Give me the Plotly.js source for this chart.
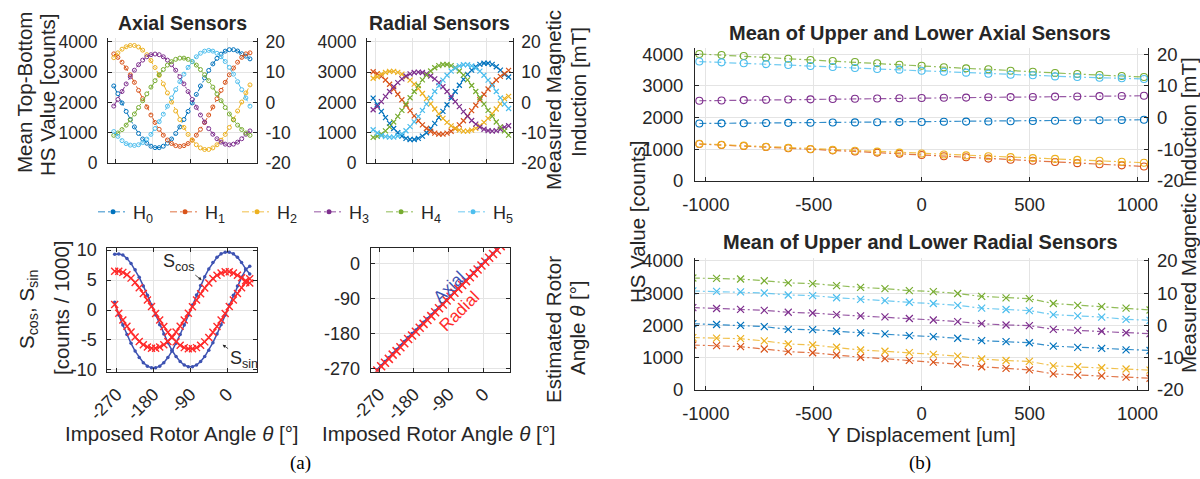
<!DOCTYPE html>
<html><head><meta charset="utf-8">
<script src="https://cdn.plot.ly/plotly-3.0.1.min.js"></script>
<style>html,body{margin:0;padding:0;background:#fff}#chart{width:1200px;height:479px}</style>
</head><body><div id="chart"></div>
<script>
// ---------- data ----------
const sensorNames = ['H<sub>0</sub>','H<sub>1</sub>','H<sub>2</sub>','H<sub>3</sub>','H<sub>4</sub>','H<sub>5</sub>'];
const theta = [-275,-265,-255,-245,-235,-225,-215,-205,-195,-185,-175,-165,-155,-145,-135,-125,-115,-105,-95,-85,-75,-65,-55,-45,-35,-25,-15,-5,5,15,25,35,45,55];

const axialH0 = [2546,2290,1984,1704,1438,1192,976,794,653,555,507,507,555,653,794,976,1192,1438,1704,1984,2266,2546,2812,3058,3274,3456,3597,3695,3744,3744,3700,3610,3530,3440];
const axialH1 = [3606,3489,3331,3138,2913,2664,2399,2125,1851,1586,1338,1112,919,761,644,574,550,574,644,761,919,1112,1338,1586,1851,2125,2399,2664,2913,3138,3331,3489,3606,3640];
const axialH2 = [3480,3640,3760,3840,3883,3883,3831,3728,3578,3385,3155,2895,2612,2315,2015,1718,1435,1175,945,752,602,499,447,447,499,602,752,945,1175,1435,1718,2015,2315,2580];
const axialH3 = [1880,2100,2361,2613,2850,3065,3249,3399,3510,3578,3600,3578,3510,3399,3249,3065,2850,2613,2361,2100,1839,1587,1350,1136,951,801,690,623,600,623,690,801,951,1060];
const axialH4 = [914,992,1105,1251,1424,1620,1833,2057,2283,2507,2720,2916,3089,3235,3348,3426,3465,3465,3426,3348,3235,3089,2916,2720,2507,2283,2057,1833,1620,1424,1251,1105,992,914];
const axialH5 = [1040,880,740,640,590,580,604,674,790,947,1140,1365,1613,1877,2150,2423,2687,2935,3160,3353,3510,3626,3696,3720,3696,3626,3510,3353,3160,2935,2687,2423,2150,1877];

const radialH0 = [2145,1925,1707,1500,1309,1141,999,889,813,775,775,813,889,999,1141,1309,1500,1707,1925,2145,2363,2570,2761,2929,3071,3181,3257,3295,3295,3257,3181,3071,2929,2840];
const radialH1 = [3014,2951,2860,2742,2603,2444,2272,2091,1909,1728,1556,1397,1258,1140,1049,986,954,954,986,1049,1140,1258,1397,1556,1728,1909,2091,2272,2444,2603,2742,2860,2951,3060];
const radialH2 = [2800,2851,2937,2996,3026,3026,2996,2937,2851,2740,2608,2459,2296,2126,1954,1784,1621,1472,1340,1229,1143,1084,1054,1054,1084,1143,1229,1340,1472,1621,1784,1954,2126,2200];
const radialH3 = [1760,1860,2030,2200,2363,2518,2657,2777,2874,2947,2990,3005,2990,2947,2874,2777,2657,2518,2363,2200,2030,1860,1697,1543,1403,1283,1186,1114,1070,1055,1070,1114,1186,1230];
const radialH4 = [845,881,954,1059,1195,1355,1538,1737,1945,2155,2363,2562,2745,2905,3041,3146,3219,3255,3255,3219,3146,3041,2905,2745,2562,2363,2155,1945,1737,1538,1355,1195,1059,920];
const radialH5 = [1100,990,910,870,855,855,891,963,1067,1202,1361,1542,1739,1946,2154,2361,2558,2739,2898,3033,3137,3209,3245,3245,3209,3137,3033,2898,2739,2558,2361,2154,1946,1800];

const sCosAxial  = [1.3,-0.84,-2.51,-4.10,-5.57,-6.86,-7.94,-8.79,-9.37,-9.66,-9.66,-9.37,-8.79,-7.94,-6.86,-5.57,-4.10,-2.51,-0.84,0.84,2.51,4.10,5.57,6.86,7.94,8.79,9.37,9.66,9.66,9.37,8.79,7.94,6.86,6.0];
const sSinAxial  = [9.3,9.35,9.18,8.61,7.78,6.72,5.45,4.02,2.46,0.83,-0.83,-2.46,-4.02,-5.45,-6.72,-7.78,-8.61,-9.18,-9.46,-9.46,-9.18,-8.61,-7.78,-6.72,-5.45,-4.02,-2.46,-0.83,0.83,2.46,4.02,5.45,6.72,7.3];
const sCosRadial = [0.9,-0.56,-1.66,-2.71,-3.67,-4.52,-5.24,-5.80,-6.18,-6.37,-6.37,-6.18,-5.80,-5.24,-4.52,-3.67,-2.71,-1.66,-0.56,0.56,1.66,2.71,3.67,4.52,5.24,5.80,6.18,6.37,6.37,6.18,5.80,5.40,4.90,4.50];
const sSinRadial = [6.47,6.47,6.28,5.89,5.32,4.60,3.73,2.75,1.68,0.57,-0.57,-1.68,-2.75,-3.73,-4.60,-5.32,-5.89,-6.28,-6.47,-6.47,-6.28,-5.89,-5.32,-4.60,-3.73,-2.75,-1.68,-0.57,0.57,1.68,2.75,3.73,4.60,5.20];

const estAxial  = [-274,-264,-253,-243,-233,-222,-212,-201,-191,-181,-172,-162,-152,-143,-133,-123,-113,-104,-94,-84,-74,-64,-54,-44,-34,-24,-13,-3,6,15,25,35,45,55];
const estRadial = [-276,-265,-256,-246,-235,-226,-216,-206,-195,-186,-176,-166,-156,-146,-136,-126,-116,-106,-96,-86,-76,-66,-56,-46,-36,-26,-16,-6,4,14,24,34,44,54];

const yDispAxial = [-1030,-927,-824,-721,-618,-515,-412,-309,-206,-103,0,103,206,309,412,515,618,721,824,927,1030];
const meanAxH0 = [1810,1815,1820,1825,1830,1835,1840,1845,1850,1855,1860,1865,1870,1875,1880,1890,1895,1905,1915,1920,1930];
const meanAxH1 = [1160,1130,1100,1065,1030,995,960,925,890,855,815,775,740,700,665,630,590,555,520,485,450];
const meanAxH2 = [1170,1140,1110,1075,1040,1005,975,950,920,890,860,830,800,775,745,715,690,660,630,600,570];
const meanAxH3 = [2530,2540,2550,2560,2570,2575,2585,2595,2600,2610,2615,2625,2630,2640,2645,2650,2660,2665,2675,2680,2690];
const meanAxH4 = [4010,3980,3945,3900,3860,3820,3790,3755,3715,3670,3640,3590,3555,3525,3480,3450,3410,3375,3345,3315,3280];
const meanAxH5 = [3770,3745,3715,3690,3660,3630,3600,3565,3535,3515,3480,3450,3420,3385,3355,3335,3300,3280,3260,3240,3220];

const yDispRadial = [-1060,-950,-839,-729,-618,-505,-394,-283,-170,-57,54,167,278,391,499,610,723,834,947,1058];
const meanRaH0 = [2055,2030,2005,1965,1880,1870,1820,1770,1740,1685,1655,1605,1530,1500,1465,1360,1320,1290,1245,1225];
const meanRaH1 = [1395,1375,1345,1270,1190,1155,1085,1015,970,920,865,800,720,670,625,500,460,440,400,365];
const meanRaH2 = [1625,1610,1590,1520,1425,1395,1325,1240,1200,1160,1105,1050,960,915,885,750,720,690,650,615];
const meanRaH3 = [2555,2525,2500,2470,2410,2385,2335,2295,2265,2215,2170,2120,2055,2015,1995,1880,1850,1820,1775,1745];
const meanRaH4 = [3470,3460,3440,3385,3320,3295,3235,3180,3140,3080,3050,2990,2900,2855,2830,2680,2625,2585,2535,2480];
const meanRaH5 = [3070,3055,3040,3005,2945,2925,2860,2810,2770,2720,2680,2625,2535,2495,2460,2335,2295,2260,2190,2160];

const countTicks = [0,1000,2000,3000,4000];
const mTTicks = [-20,-10,0,10,20];
const angleTicks = [-270,-180,-90,0];
const sTicks = [-10,-5,0,5,10];
const dispTicks = [-1000,-500,0,500,1000];

// ---------- styling ----------
const F = 'Liberation Sans, Arial, Helvetica, sans-serif';
const TXT = '#262626';
const COLORS = ['#0072BD','#D95319','#EDB120','#7E2F8E','#77AC30','#4DBEEE'];
const BLUE = '#3D52B2', RED = '#FF2A2A';
const DD = '7px,3px,2px,3px';
function rgba(hex, a){const n=parseInt(hex.slice(1),16);return `rgba(${n>>16&255},${n>>8&255},${n&255},${a})`;}
const lbl = v => v.map(t => String(t));

const axialSets = [axialH0,axialH1,axialH2,axialH3,axialH4,axialH5];
const radialSets = [radialH0,radialH1,radialH2,radialH3,radialH4,radialH5];
const meanAxSets = [meanAxH0,meanAxH1,meanAxH2,meanAxH3,meanAxH4,meanAxH5];
const meanRaSets = [meanRaH0,meanRaH1,meanRaH2,meanRaH3,meanRaH4,meanRaH5];

const traces = [];
axialSets.forEach((ys,i)=>traces.push({x:theta,y:ys,xaxis:'x',yaxis:'y',mode:'lines+markers',showlegend:false,hoverinfo:'skip',
  line:{color:COLORS[i],width:1,dash:DD},marker:{symbol:'circle-open',size:4,color:COLORS[i],line:{width:1}}}));
radialSets.forEach((ys,i)=>traces.push({x:theta,y:ys,xaxis:'x2',yaxis:'y3',mode:'lines+markers',showlegend:false,hoverinfo:'skip',
  line:{color:COLORS[i],width:1,dash:DD},marker:{symbol:'x-thin',size:5,line:{width:1.2,color:COLORS[i]}}}));
[sCosAxial,sSinAxial].forEach(ys=>traces.push({x:theta,y:ys,xaxis:'x3',yaxis:'y5',mode:'lines+markers',showlegend:false,hoverinfo:'skip',
  line:{color:BLUE,width:1.5},marker:{symbol:'circle',size:3.5,color:BLUE}}));
[sCosRadial,sSinRadial].forEach(ys=>traces.push({x:theta,y:ys,xaxis:'x3',yaxis:'y5',mode:'lines+markers',showlegend:false,hoverinfo:'skip',
  line:{color:RED,width:1.3},marker:{symbol:'x-thin',size:7,line:{width:1.4,color:RED}}}));
traces.push({x:theta,y:estAxial,xaxis:'x4',yaxis:'y6',mode:'lines+markers',showlegend:false,hoverinfo:'skip',
  line:{color:BLUE,width:2},marker:{symbol:'circle',size:3.5,color:BLUE}});
traces.push({x:theta,y:estRadial,xaxis:'x4',yaxis:'y6',mode:'lines+markers',showlegend:false,hoverinfo:'skip',
  line:{color:RED,width:1.3},marker:{symbol:'x-thin',size:8,line:{width:1.5,color:RED}}});
meanAxSets.forEach((ys,i)=>traces.push({x:yDispAxial,y:ys,xaxis:'x5',yaxis:'y7',mode:'lines+markers',showlegend:false,hoverinfo:'skip',
  line:{color:rgba(COLORS[i],0.8),width:1.2,dash:DD},marker:{symbol:'circle-open',size:7,color:COLORS[i],line:{width:1.1}}}));
meanRaSets.forEach((ys,i)=>traces.push({x:yDispRadial,y:ys,xaxis:'x6',yaxis:'y9',mode:'lines+markers',showlegend:false,hoverinfo:'skip',
  line:{color:rgba(COLORS[i],0.8),width:1.2,dash:DD},marker:{symbol:'x-thin',size:7,line:{width:1.2,color:COLORS[i]}}}));
// right-hand axes (carry no data of their own)
['y2','y4'].forEach((ya,j)=>traces.push({x:[null],y:[null],xaxis:j?'x2':'x',yaxis:ya,mode:'lines',showlegend:false,hoverinfo:'skip'}));
traces.push({x:[null],y:[null],xaxis:'x5',yaxis:'y8',mode:'lines',showlegend:false,hoverinfo:'skip'});
traces.push({x:[null],y:[null],xaxis:'x6',yaxis:'y10',mode:'lines',showlegend:false,hoverinfo:'skip'});
// legend entries
sensorNames.forEach((nm,i)=>traces.push({x:[null],y:[null],xaxis:'x',yaxis:'y',mode:'lines+markers',name:nm,showlegend:true,hoverinfo:'skip',
  line:{color:rgba(COLORS[i],0.55),width:1.5,dash:DD},marker:{symbol:'circle',size:5,color:COLORS[i]}}));

// ---------- layout ----------
const W=1200,H=479;
const px = v=>v/W, py = v=>1-v/H;
const base = {showline:true,linecolor:TXT,linewidth:1,ticks:'inside',ticklen:4,tickcolor:TXT,tickwidth:1,
  showgrid:true,gridcolor:'#e4e4e4',gridwidth:1,zeroline:false,fixedrange:true,automargin:false,
  tickfont:{family:F,size:18,color:TXT}};
const ax = o => Object.assign({}, base, o);
const tf = s => ({family:F,size:s,color:TXT});

const layout = {
  width:W,height:H,margin:{l:0,r:0,t:0,b:0},paper_bgcolor:'#fff',plot_bgcolor:'#fff',
  font:{family:F,color:TXT},
  showlegend:true,
  legend:{orientation:'h',x:px(93),xanchor:'left',y:py(212),yanchor:'middle',font:tf(18),
    bgcolor:'rgba(0,0,0,0)',entrywidth:27,entrywidthmode:'pixels',itemclick:false,itemdoubleclick:false},
  // P1 axial
  xaxis: ax({domain:[px(108),px(257)],range:[-289,72],tickvals:angleTicks,showticklabels:false,anchor:'y'}),
  yaxis: ax({domain:[py(163),py(38)],range:[0,4130],tickvals:countTicks,ticktext:lbl(countTicks),anchor:'x',ticklabelstandoff:6,tickfont:tf(17.5)}),
  yaxis2: ax({overlaying:'y',side:'right',anchor:'x',range:[-20,21.3],tickvals:mTTicks,ticktext:lbl(mTTicks),showgrid:false,ticklabelstandoff:4,tickfont:tf(17.5)}),
  // P2 radial
  xaxis2: ax({domain:[px(367),px(512.7)],range:[-290,65],tickvals:angleTicks,showticklabels:false,anchor:'y3'}),
  yaxis3: ax({domain:[py(163),py(38)],range:[0,4130],tickvals:countTicks,ticktext:lbl(countTicks),anchor:'x2',ticklabelstandoff:6,tickfont:tf(17.5)}),
  yaxis4: ax({overlaying:'y3',side:'right',anchor:'x2',range:[-20,21.3],tickvals:mTTicks,ticktext:lbl(mTTicks),showgrid:false,ticklabelstandoff:4,tickfont:tf(17.5)}),
  // P3 S signals
  xaxis3: ax({domain:[px(107.3),px(256.7)],range:[-293,72],tickvals:angleTicks,ticktext:lbl(angleTicks),tickangle:-45,mirror:'ticks',anchor:'y5',ticklabelstandoff:4}),
  yaxis5: ax({domain:[py(371.7),py(247.7)],range:[-10.3,10.4],tickvals:sTicks,ticktext:lbl(sTicks),mirror:'ticks',anchor:'x3',ticklabelstandoff:6}),
  // P4 estimated angle
  xaxis4: ax({domain:[px(370.7),px(510)],range:[-292,69],tickvals:angleTicks,ticktext:lbl(angleTicks),tickangle:-45,mirror:'ticks',anchor:'y6',ticklabelstandoff:4}),
  yaxis6: ax({domain:[py(371.7),py(247.7)],range:[-279,40],tickvals:angleTicks,ticktext:lbl(angleTicks),mirror:'ticks',anchor:'x4',ticklabelstandoff:6}),
  // P5 axial vs displacement
  xaxis5: ax({domain:[px(695),px(1148.3)],range:[-1050,1050],tickvals:dispTicks,ticktext:lbl(dispTicks),anchor:'y7',ticklabelstandoff:7,tickfont:tf(18.5)}),
  yaxis7: ax({domain:[py(180.7),py(48.3)],range:[0,4190],tickvals:countTicks,ticktext:lbl(countTicks),anchor:'x5',ticklabelstandoff:7,tickfont:tf(18.5)}),
  yaxis8: ax({overlaying:'y7',side:'right',anchor:'x5',range:[-20,21.9],tickvals:mTTicks,ticktext:lbl(mTTicks),showgrid:false,ticklabelstandoff:4,tickfont:tf(18.5)}),
  // P6 radial vs displacement
  xaxis6: ax({domain:[px(695),px(1148.3)],range:[-1050,1050],tickvals:dispTicks,ticktext:lbl(dispTicks),anchor:'y9',ticklabelstandoff:7,tickfont:tf(18.5)}),
  yaxis9: ax({domain:[py(390),py(257.7)],range:[0,4100],tickvals:countTicks,ticktext:lbl(countTicks),anchor:'x6',ticklabelstandoff:7,tickfont:tf(18.5)}),
  yaxis10: ax({overlaying:'y9',side:'right',anchor:'x6',range:[-20,21],tickvals:mTTicks,ticktext:lbl(mTTicks),showgrid:false,ticklabelstandoff:4,tickfont:tf(18.5)}),
  annotations:[]
};

function note(text,x,y,o){layout.annotations.push(Object.assign({text,x:px(x),y:py(y),xref:'paper',yref:'paper',showarrow:false,
  xanchor:'center',yanchor:'middle',font:tf(20.5)},o||{}));}
note('<b>Axial Sensors</b>',182.5,23,{font:tf(19.5)});
note('<b>Radial Sensors</b>',440,23,{font:tf(19.5)});
note('<b>Mean of Upper and Lower Axial Sensors</b>',920,33,{font:tf(20)});
note('<b>Mean of Upper and Lower Radial Sensors</b>',920,242,{font:tf(20)});
note('Mean Top-Bottom',24,93,{textangle:-90});
note('HS Value [counts]',48,95,{textangle:-90});
note('Measured Magnetic',553,100,{textangle:-90});
note('Induction [mT]',578,92,{textangle:-90});
note('S<sub>cos</sub>, S<sub>sin</sub>',28,310,{textangle:-90});
note('[counts / 1000]',61,308,{textangle:-90});
note('Imposed Rotor Angle <i>θ</i> [°]',182,433);
note('Imposed Rotor Angle <i>θ</i> [°]',439,433);
note('Estimated Rotor',553,330,{textangle:-90});
note('Angle <i>θ</i> [°]',577,328,{textangle:-90});
note('HS Value [counts]',637,222,{textangle:-90});
note('Measured Magnetic Induction [mT]',1189,215,{textangle:-90});
note('Y Displacement [um]',921.7,434);
note('(a)',300,463,{font:{family:'Liberation Serif, Times New Roman, serif',size:19,color:'#000'}});
note('(b)',920,463,{font:{family:'Liberation Serif, Times New Roman, serif',size:19,color:'#000'}});
// in-plot labels
layout.annotations.push({text:'Axial',x:-89,y:-62,xref:'x4',yref:'y6',showarrow:false,textangle:-45,font:{family:F,size:17,color:BLUE}});
layout.annotations.push({text:'Radial',x:-63,y:-123,xref:'x4',yref:'y6',showarrow:false,textangle:-45,font:{family:F,size:17,color:RED}});
layout.annotations.push({text:'S<sub>cos</sub>',x:-62.5,y:5.0,xref:'x3',yref:'y5',showarrow:true,ax:-23,ay:-18,arrowhead:2,arrowsize:0.8,arrowwidth:0.8,arrowcolor:TXT,font:tf(18)});
layout.annotations.push({text:'S<sub>sin</sub>',x:-11.3,y:-5.8,xref:'x3',yref:'y5',showarrow:true,ax:21,ay:15,arrowhead:2,arrowsize:0.8,arrowwidth:0.8,arrowcolor:TXT,font:tf(18)});

Plotly.newPlot('chart',traces,layout,{displayModeBar:false,staticPlot:true});
</script></body></html>
